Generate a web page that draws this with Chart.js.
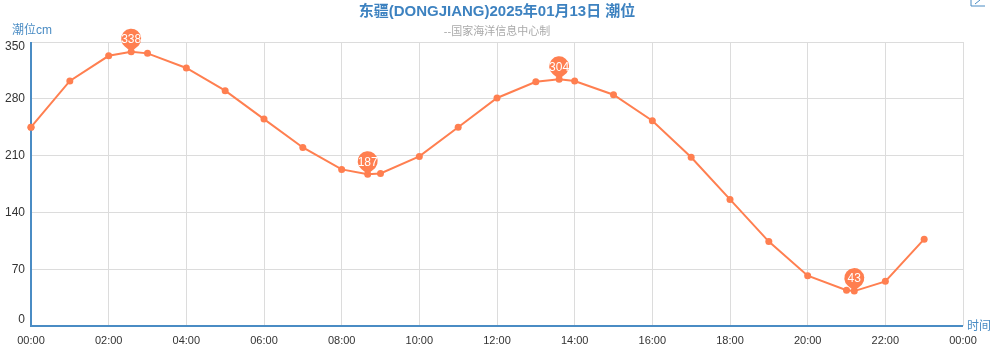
<!DOCTYPE html>
<html>
<head>
<meta charset="utf-8">
<script src="https://cdn.jsdelivr.net/npm/chart.js@4/dist/chart.umd.min.js"></script>
<style>
  html, body { margin: 0; padding: 0; background: #fff; }
  #chart { display: block; }
</style>
</head>
<body>
<canvas id="chart" width="993" height="345"></canvas>
<script>
// times in hours after 00:00, tide heights in cm
let hours = [0, 1, 2, 2.58, 3, 4, 5, 6, 7, 8, 8.67, 9, 10, 11, 12, 13, 13.6, 14, 15, 16, 17, 18, 19, 20, 21, 21.2, 22, 23];
let levels = [245, 302, 333, 338, 336, 318, 290, 255, 220, 193, 187, 188, 209, 245, 281, 301, 304, 302, 285, 253, 208, 156, 104, 62, 44, 43, 55, 107];
// indexes of the marked high / low points
let extremes = [3, 10, 16, 25];
let yTicks = [0, 70, 140, 210, 280, 350];

let titleText = "东疆(DONGJIANG)2025年01月13日 潮位";
let subText = "--国家海洋信息中心制";
let fontFam = "'Liberation Sans', 'Noto Sans CJK SC', sans-serif";
let lineColor = "#ff7f50";
let axisBlue = "#4a8cc4";

function hourLabel(v) {
    let h = v % 24;
    return (h < 10 ? "0" : "") + h + ":00";
}

let extraDraw = {
    id: "extraDraw",
    afterDraw(chart) {
        let ctx = chart.ctx;
        let xs = chart.scales.x, ys = chart.scales.y;
        ctx.save();

        // titles
        ctx.textAlign = "center";
        ctx.textBaseline = "middle";
        ctx.fillStyle = "#3d82c0";
        ctx.font = "bold 15px " + fontFam;
        ctx.fillText(titleText, 497, 12);
        ctx.fillStyle = "#aaa";
        ctx.font = "11px " + fontFam;
        ctx.fillText(subText, 497, 32);

        // axis names
        ctx.fillStyle = axisBlue;
        ctx.font = "12px " + fontFam;
        ctx.textAlign = "left";
        ctx.fillText("潮位cm", 12, 31);
        ctx.fillText("时间", 967, 327);

        // y tick labels, kept inside the plot height like the original
        ctx.fillStyle = "#333";
        ctx.textAlign = "right";
        ctx.font = "12px " + fontFam;
        yTicks.forEach(v => {
            let py = ys.getPixelForValue(v);
            py = Math.min(Math.max(py, ys.top + 5), ys.bottom - 6);
            ctx.fillText(String(v), 25, py);
        });

        // axis lines
        ctx.strokeStyle = axisBlue;
        ctx.lineWidth = 2;
        ctx.beginPath();
        ctx.moveTo(xs.left, ys.top);
        ctx.lineTo(xs.left, ys.bottom);
        ctx.lineTo(xs.right, ys.bottom);
        ctx.stroke();

        // toolbox icon corner
        ctx.lineWidth = 1;
        ctx.beginPath();
        ctx.moveTo(971, 0);
        ctx.lineTo(971, 6);
        ctx.lineTo(985, 6);
        ctx.moveTo(975, 4);
        ctx.lineTo(980, 0);
        ctx.stroke();

        // redraw the series over the axis line so the first dot is whole
        let meta = chart.getDatasetMeta(0);
        ctx.fillStyle = lineColor;
        [meta.data[0]].forEach(pt => {
            ctx.beginPath();
            ctx.arc(pt.x, pt.y, 3.5, 0, Math.PI * 2);
            ctx.fill();
        });

        // pin markers on highs and lows
        let r = 10, d = 13;
        let th = Math.acos(r / d);
        extremes.forEach(i => {
            let px = xs.getPixelForValue(hours[i]);
            let py = ys.getPixelForValue(levels[i]);
            let cy = py - d;
            ctx.fillStyle = lineColor;
            ctx.beginPath();
            ctx.arc(px, cy, r, Math.PI / 2 + th, Math.PI / 2 - th + Math.PI * 2);
            ctx.lineTo(px, py);
            ctx.closePath();
            ctx.fill();
            ctx.fillStyle = "#fff";
            ctx.textAlign = "center";
            ctx.font = "12px " + fontFam;
            ctx.fillText(String(levels[i]), px, cy + 1);
        });
        ctx.restore();
    }
};

let points = hours.map((h, i) => ({ x: h, y: levels[i] }));

let chart = new Chart(document.getElementById("chart"), {
    type: "line",
    data: {
        datasets: [{
            data: points,
            borderColor: lineColor,
            backgroundColor: lineColor,
            borderWidth: 2,
            pointRadius: 3.5,
            pointBackgroundColor: lineColor,
            pointBorderWidth: 0,
            tension: 0,
            fill: false,
            clip: false
        }]
    },
    options: {
        responsive: false,
        animation: false,
        layout: { padding: { top: 42, right: 30, left: 0, bottom: 0 } },
        plugins: {
            legend: { display: false },
            tooltip: { enabled: false }
        },
        scales: {
            x: {
                type: "linear",
                min: 0,
                max: 24,
                afterFit: s => { s.height = 19; },
                ticks: {
                    stepSize: 2,
                    autoSkip: false,
                    maxRotation: 0,
                    padding: 8,
                    color: "#333",
                    font: { size: 11, family: fontFam },
                    callback: v => hourLabel(v)
                },
                grid: { color: "#dcdcdc", lineWidth: 1, drawTicks: false },
                border: { display: false }
            },
            y: {
                min: 0,
                max: 350,
                afterFit: s => { s.width = 31; },
                afterBuildTicks: s => { s.ticks = yTicks.map(v => ({ value: v })); },
                ticks: { display: false },
                grid: { color: "#dcdcdc", lineWidth: 1, drawTicks: false },
                border: { display: false }
            }
        }
    },
    plugins: [extraDraw]
});
</script>
</body>
</html>
